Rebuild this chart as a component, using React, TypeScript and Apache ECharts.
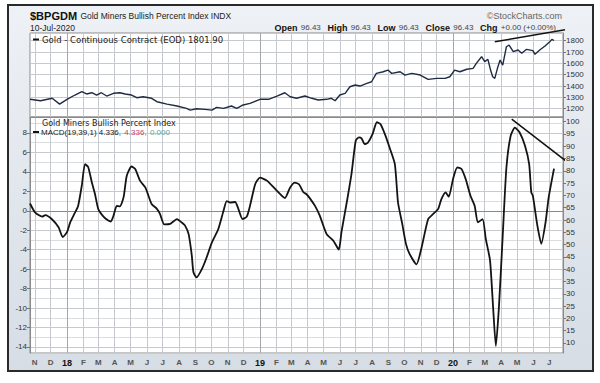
import React, { useEffect, useRef } from "react";
import * as echarts from "echarts";

const monthLetters = ["J", "F", "M", "A", "M", "J", "J", "A", "S", "O", "N", "D"];

const axisStart = "2017-10-23";
const axisEnd = "2020-07-27";

const goldDates = [
  "2017-10-23", "2017-11-12", "2017-12-04", "2017-12-18", "2018-01-01", "2018-01-16", "2018-01-29",
  "2018-02-07", "2018-02-17", "2018-02-26", "2018-03-07", "2018-03-17", "2018-03-30", "2018-04-11",
  "2018-04-21", "2018-05-03", "2018-05-13", "2018-05-25", "2018-06-10", "2018-06-20", "2018-07-09",
  "2018-07-28", "2018-08-15", "2018-08-22", "2018-09-03", "2018-09-19", "2018-10-02", "2018-10-11",
  "2018-10-24", "2018-11-08", "2018-11-18", "2018-11-30", "2018-12-13", "2019-01-01", "2019-01-17",
  "2019-02-02", "2019-02-17", "2019-02-27", "2019-03-11", "2019-03-27", "2019-04-09", "2019-04-21",
  "2019-05-07", "2019-05-16", "2019-05-23", "2019-06-01", "2019-06-11", "2019-06-20", "2019-06-30",
  "2019-07-09", "2019-07-22", "2019-07-31", "2019-08-09", "2019-08-22", "2019-08-31", "2019-09-07",
  "2019-09-23", "2019-10-02", "2019-10-15", "2019-10-31", "2019-11-15", "2019-12-01", "2019-12-17",
  "2019-12-26", "2020-01-04", "2020-01-14", "2020-01-27", "2020-02-08", "2020-02-14", "2020-02-24",
  "2020-03-01", "2020-03-07", "2020-03-12", "2020-03-16", "2020-03-20", "2020-03-25", "2020-03-30",
  "2020-04-04", "2020-04-11", "2020-04-16", "2020-04-24", "2020-05-03", "2020-05-10", "2020-05-19",
  "2020-05-31", "2020-06-04", "2020-06-13", "2020-06-23", "2020-07-02", "2020-07-06", "2020-07-10"
];
const goldValues = [
  1283, 1270, 1292, 1241, 1283, 1321, 1350,
  1330, 1341, 1321, 1341, 1312, 1336, 1341,
  1330, 1321, 1297, 1306, 1292, 1262, 1241,
  1224, 1203, 1188, 1200, 1194, 1188, 1212,
  1203, 1224, 1203, 1233, 1247, 1283, 1283,
  1312, 1341, 1306, 1292, 1312, 1292, 1277,
  1283, 1292, 1270, 1321, 1336, 1394, 1409,
  1400, 1424, 1438, 1512, 1526, 1541, 1512,
  1526, 1497, 1512, 1497, 1459, 1468, 1468,
  1482, 1541, 1526, 1548, 1556, 1600, 1659,
  1615, 1636, 1541, 1482, 1468, 1556, 1630,
  1585, 1747, 1762, 1703, 1718, 1689, 1724,
  1712, 1680, 1718, 1753, 1791, 1812, 1801.9
];

const macdDates = [
  "2017-10-23", "2017-11-02", "2017-11-15", "2017-11-21", "2017-12-04", "2017-12-16", "2017-12-24",
  "2018-01-01", "2018-01-07", "2018-01-16", "2018-01-22", "2018-01-29", "2018-02-04", "2018-02-10",
  "2018-02-17", "2018-02-23", "2018-03-01", "2018-03-11", "2018-03-20", "2018-03-25", "2018-03-30",
  "2018-04-05", "2018-04-11", "2018-04-18", "2018-04-24", "2018-05-03", "2018-05-10", "2018-05-19",
  "2018-05-29", "2018-06-04", "2018-06-10", "2018-06-20", "2018-06-26", "2018-07-04", "2018-07-15",
  "2018-07-28", "2018-08-06", "2018-08-12", "2018-08-19", "2018-08-25", "2018-08-28", "2018-09-03",
  "2018-09-13", "2018-09-22", "2018-10-02", "2018-10-14", "2018-10-24", "2018-10-30", "2018-11-05",
  "2018-11-15", "2018-11-21", "2018-11-29", "2018-12-07", "2018-12-13", "2018-12-23", "2019-01-01",
  "2019-01-14", "2019-02-02", "2019-02-17", "2019-02-27", "2019-03-08", "2019-03-16", "2019-03-24",
  "2019-03-30", "2019-04-05", "2019-04-15", "2019-04-24", "2019-05-07", "2019-05-20", "2019-05-30",
  "2019-06-04", "2019-06-14", "2019-06-23", "2019-07-01", "2019-07-07", "2019-07-12", "2019-07-18",
  "2019-07-24", "2019-08-02", "2019-08-10", "2019-08-17", "2019-08-25", "2019-09-03", "2019-09-13",
  "2019-09-19", "2019-09-27", "2019-10-04", "2019-10-11", "2019-10-24", "2019-11-02", "2019-11-15",
  "2019-11-24", "2019-12-04", "2019-12-10", "2019-12-18", "2019-12-24", "2020-01-01", "2020-01-09",
  "2020-01-17", "2020-01-25", "2020-02-03", "2020-02-11", "2020-02-17", "2020-02-26", "2020-03-03",
  "2020-03-11", "2020-03-17", "2020-03-22", "2020-03-28", "2020-04-04", "2020-04-11", "2020-04-19",
  "2020-04-27", "2020-05-06", "2020-05-16", "2020-05-24", "2020-05-28", "2020-05-31", "2020-06-08",
  "2020-06-16", "2020-06-24", "2020-06-30", "2020-07-10"
];
const macdValues = [
  0.75, -0.2, -0.6, -0.45, -0.9, -1.7, -2.7,
  -2.2, -1.2, -0.2, 0.5, 2.6, 4.8, 4.5,
  2.9, 1.7, 0.2, -0.6, -1.0, -1.1, -0.5,
  0.5, 0.45, 1.4, 3.6, 4.55, 4.3, 3.1,
  2.4, 1.55, 0.7, 0.2, -0.35, -1.4, -1.35,
  -0.85, -1.2, -1.5, -2.4, -4.6, -6.3, -6.85,
  -6.0, -4.8, -3.25, -1.9, 0, 1.0, 0.85,
  0.9, 0.2, -0.85, -0.6, 0.5, 2.75, 3.4,
  3.1, 2.05, 1.3, 2.4, 2.9, 2.7, 1.9,
  1.7, 1.3, 0.5, -0.5, -2.4, -3.1, -4.0,
  -2.2, 0.85, 3.8, 7.2, 7.55, 7.45, 6.85,
  7.0, 7.9, 9.1, 8.9, 7.9, 6.5, 4.8,
  0.85, -1.35, -3.4, -4.45, -5.5, -3.9, -0.85,
  -0.35, 0.2, 1.2, 1.9, 1.45, 3.25, 4.45,
  4.3, 3.25, 1.55, 0.5, -1.2, -0.85, -2.9,
  -5.1, -10.1, -13.9, -9.75, -2.55, 4.45, 7.7,
  8.55, 8.05, 6.7, 4.8, 1.9, 1.55, -1.35,
  -3.4, -1.2, 1.4, 4.336
];

const yearLines = ["2018-01-01", "2019-01-01", "2020-01-01"];

const goldTrendDates = ["2020-03-20", "2020-08-15"];
const goldTrendValues = [1791, 1908];
const macdTrendDates = ["2020-04-21", "2020-08-09"];
const macdTrendValues = [9.42, 4.8];

const DAY = 86400000;
const ts = (s: string) => echarts.number.parseDate(s).getTime();
const zip = (d: string[], v: number[]) => d.map((x, i) => [ts(x), v[i]]);

export default function App() {
  const ref = useRef<HTMLDivElement>(null);
  useEffect(() => {
    document.body.style.margin = "0";
    const chart = echarts.init(ref.current as HTMLDivElement, null, { renderer: "svg" });
    const gridColor = "#c6cacf";
    const borderColor = "#8a8a8a";
    const labelFont = "Liberation Sans";
    const xCommon = {
      type: "time",
      min: ts(axisStart),
      max: ts(axisEnd),
      minInterval: 32 * DAY,
      maxInterval: 32 * DAY,
      axisLine: { show: true, lineStyle: { color: borderColor, width: 1 } },
      axisTick: { show: false },
      splitLine: { show: true, lineStyle: { color: gridColor, width: 1 } },
    };
    const yearMark = {
      silent: true,
      symbol: ["none", "none"],
      label: { show: false },
      lineStyle: { color: "#a4a8ad", type: "solid", width: 1 },
      data: yearLines.map((d) => ({ xAxis: ts(d) })),
    };
    const option: any = {
      animation: false,
      backgroundColor: "transparent",
      grid: [
        { left: 30, right: 37, top: 33, height: 84, show: true, backgroundColor: "transparent", borderColor, borderWidth: 1 },
        { left: 30, right: 37, top: 117, height: 236, show: true, backgroundColor: "transparent", borderColor, borderWidth: 1 },
      ],
      xAxis: [
        { ...xCommon, gridIndex: 0, axisLabel: { show: false } },
        {
          ...xCommon,
          gridIndex: 1,
          axisLabel: {
            show: true,
            interval: 0,
            margin: 5,
            fontSize: 8,
            fontWeight: "bold",
            fontFamily: labelFont,
            color: "#555",
            formatter: (v: number) => {
              const d = new Date(v);
              if (d.getDate() !== 1) return "";
              const m = d.getMonth();
              if (m === 0) return "{y|" + String(d.getFullYear()).slice(2) + "}";
              return monthLetters[m];
            },
            rich: { y: { fontSize: 9, fontWeight: "bold", color: "#111", fontFamily: labelFont } },
          },
        },
      ],
      yAxis: [
        {
          type: "value", gridIndex: 0, position: "right", min: 1127, max: 1868, splitNumber: 7,
          axisLine: { show: true, lineStyle: { color: borderColor, width: 1 } },
          axisTick: { show: true, length: 3, lineStyle: { color: "#777" } },
          axisLabel: { fontSize: 8, color: "#333", fontFamily: labelFont, margin: 3, showMinLabel: false, showMaxLabel: false, formatter: (v: number) => String(v) },
          splitLine: { show: true, lineStyle: { color: gridColor } },
        },
        {
          type: "value", gridIndex: 1, position: "left", min: -14.62, max: 9.64, splitNumber: 12,
          axisLine: { show: true, lineStyle: { color: borderColor, width: 1 } },
          axisTick: { show: true, length: 3, lineStyle: { color: "#777" } },
          axisLabel: { fontSize: 8, color: "#333", fontFamily: labelFont, margin: 3, showMinLabel: false, showMaxLabel: false },
          splitLine: { show: true, lineStyle: { color: gridColor } },
          minorTick: { show: false, splitNumber: 2 },
          minorSplitLine: { show: true, lineStyle: { color: "#dadde0" } },
        },
        {
          type: "value", gridIndex: 1, position: "right", min: 5.93, max: 101.9, splitNumber: 19,
          axisLine: { show: true, lineStyle: { color: borderColor, width: 1 } },
          axisTick: { show: true, length: 3, lineStyle: { color: "#777" } },
          axisLabel: { fontSize: 8, color: "#333", fontFamily: labelFont, margin: 3, showMinLabel: false, showMaxLabel: false },
          splitLine: { show: false },
        },
      ],
      series: [
        {
          name: "Gold", type: "line", xAxisIndex: 0, yAxisIndex: 0, showSymbol: false, clip: false,
          lineStyle: { color: "#1f2b44", width: 1.4 }, z: 5,
          data: zip(goldDates, goldValues), markLine: yearMark,
        },
        {
          name: "MACD", type: "line", xAxisIndex: 1, yAxisIndex: 1, showSymbol: false, clip: false, smooth: 0.2,
          lineStyle: { color: "#141414", width: 1.8 }, z: 5,
          data: zip(macdDates, macdValues), markLine: yearMark,
        },
        {
          name: "GoldTrend", type: "line", xAxisIndex: 0, yAxisIndex: 0, showSymbol: false, clip: false,
          lineStyle: { color: "#111", width: 1.5 }, z: 6,
          data: zip(goldTrendDates, goldTrendValues),
        },
        {
          name: "MacdTrend", type: "line", xAxisIndex: 1, yAxisIndex: 1, showSymbol: false, clip: false,
          lineStyle: { color: "#111", width: 1.5 }, z: 6,
          data: zip(macdTrendDates, macdTrendValues),
        },
      ],
      graphic: [
        {
          type: "text", x: 30, y: 16, z: 10,
          style: {
            text: "{a|$BPGDM} {b|Gold Miners Bullish Percent Index INDX}",
            verticalAlign: "middle",
            rich: {
              a: { fontSize: 11, fontWeight: "bold", fontFamily: labelFont, fill: "#111" },
              b: { fontSize: 8.5, fontFamily: labelFont, fill: "#222" },
            },
          },
        },
        {
          type: "text", x: 30, y: 27.5, z: 10,
          style: { text: "10-Jul-2020", fontSize: 8.5, fontFamily: labelFont, fill: "#222", verticalAlign: "middle" },
        },
        {
          type: "text", x: 556, y: 27.5, z: 10,
          style: {
            text: "{l|Open} {v|96.43}  {l|High} {v|96.43}  {l|Low} {v|96.43}  {l|Close} {v|96.43}  {l|Chg} {v|+0.00 (+0.00%)}",
            align: "right", verticalAlign: "middle",
            rich: {
              l: { fontSize: 9, fontWeight: "bold", fontFamily: labelFont, fill: "#111" },
              v: { fontSize: 8, fontFamily: labelFont, fill: "#444" },
            },
          },
        },
        {
          type: "text", x: 562, y: 15.5, z: 10,
          style: { text: "\u00A9StockCharts.com", fontSize: 9, fontFamily: labelFont, fill: "#666", align: "right", verticalAlign: "middle" },
        },
        { type: "rect", z: 10, shape: { x: 33, y: 38.5, width: 6, height: 2 }, style: { fill: "#111" } },
        {
          type: "text", x: 42, y: 39.5, z: 10,
          style: { text: "Gold - Continuous Contract (EOD) 1801.90", fontSize: 8.5, fontFamily: "DejaVu Sans", fill: "#222", verticalAlign: "middle" },
        },
        {
          type: "text", x: 42, y: 123.5, z: 10,
          style: { text: "Gold Miners Bullish Percent Index", fontSize: 8, fontFamily: "DejaVu Sans", fill: "#222", verticalAlign: "middle" },
        },
        { type: "rect", z: 10, shape: { x: 33, y: 131, width: 6, height: 2 }, style: { fill: "#111" } },
        {
          type: "text", x: 41, y: 132, z: 10,
          style: {
            text: "{k|MACD(19,39,1) 4.336,} {r|4.336,} {g|0.000}",
            verticalAlign: "middle",
            rich: {
              k: { fontSize: 8, fontFamily: labelFont, fill: "#222" },
              r: { fontSize: 8, fontFamily: labelFont, fill: "#c2476a" },
              g: { fontSize: 8, fontFamily: labelFont, fill: "#5fa49c" },
            },
          },
        },
      ],
    };
    chart.setOption(option);
    return () => chart.dispose();
  }, []);
  const plotBox = (top: number, height: number): React.CSSProperties => ({
    position: "absolute", left: 30, top, width: 533, height, background: "#ffffff",
  });
  return (
    <div style={{ position: "relative", width: 600, height: 383, background: "#ffffff" }}>
      <div
        style={{
          position: "absolute", left: 7, top: 4, width: 583, height: 364,
          border: "2px solid #2a2a2a",
          background: "linear-gradient(#eef1f5, #d6dde5)",
        }}
      />
      <div style={plotBox(33, 84)} />
      <div style={plotBox(117, 236)} />
      <div ref={ref} style={{ position: "absolute", left: 0, top: 0, width: 600, height: 383 }} />
    </div>
  );
}
